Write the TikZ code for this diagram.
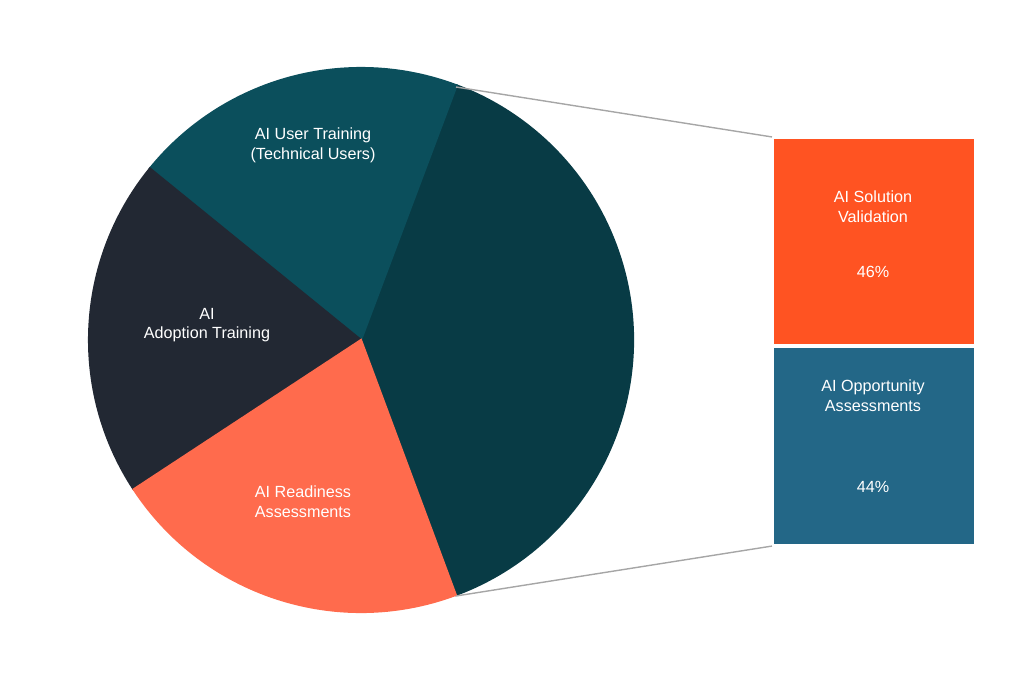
\documentclass[tikz,border=0pt]{standalone}
\usepackage{fontspec}
\setmainfont{Liberation Sans}
\usetikzlibrary{positioning}
\definecolor{tealslice}{HTML}{0B4F5C}
\definecolor{darkslice}{HTML}{222833}
\definecolor{coralslice}{HTML}{FF6B4D}
\definecolor{bigslice}{HTML}{083B45}
\definecolor{orangebox}{HTML}{FF5322}
\definecolor{bluebox}{HTML}{236787}
\begin{document}
\begin{tikzpicture}[every node/.style={align=center, text=white, font=\fontsize{4.6}{5.6}\selectfont},
  slice/.style={draw=white, line width=0.6pt},
  barbox/.style={draw=white, line width=0.6pt, minimum width=2.02cm, inner sep=0pt}]
\useasboundingbox (0,0) rectangle (10.24,6.83);
\coordinate (C) at (3.61,3.43);
% pie slices
\fill[slice, bigslice] (C) -- ++(-69.6:2.72) arc (-69.6:69.4:2.72) -- cycle;
\fill[slice, tealslice] (C) -- ++(69.4:2.72) arc (69.4:140.9:2.72) -- cycle;
\fill[slice, darkslice] (C) -- ++(140.9:2.72) arc (140.9:213.3:2.72) -- cycle;
\fill[slice, coralslice] (C) -- ++(213.3:2.72) arc (213.3:290.4:2.72) -- cycle;
\node (user) at (3.13,5.38) {AI User Training\\(Technical Users)};
\node (adopt) at (2.07,3.58) {AI\\Adoption Training};
\node (ready) at (3.03,1.81) {AI Readiness\\Assessments};
% bar of pie
\node (valid) [barbox, fill=orangebox, minimum height=2.07cm] at (8.74,4.415) {};
\node (oppor) [barbox, fill=bluebox, minimum height=1.98cm] at (8.74,2.37) {};
\node at (8.73,4.76) {AI Solution\\Validation};
\node at (8.73,4.11) {46\%};
\node at (8.73,2.87) {AI Opportunity\\Assessments};
\node at (8.73,1.96) {44\%};
\coordinate (pietop) at (4.56,5.96);
\coordinate (piebot) at (4.56,0.87);
\draw[gray!70, line width=0.4pt] (pietop) -- (valid.north west);
\draw[gray!70, line width=0.4pt] (piebot) -- (oppor.south west);
\end{tikzpicture}
\end{document}
